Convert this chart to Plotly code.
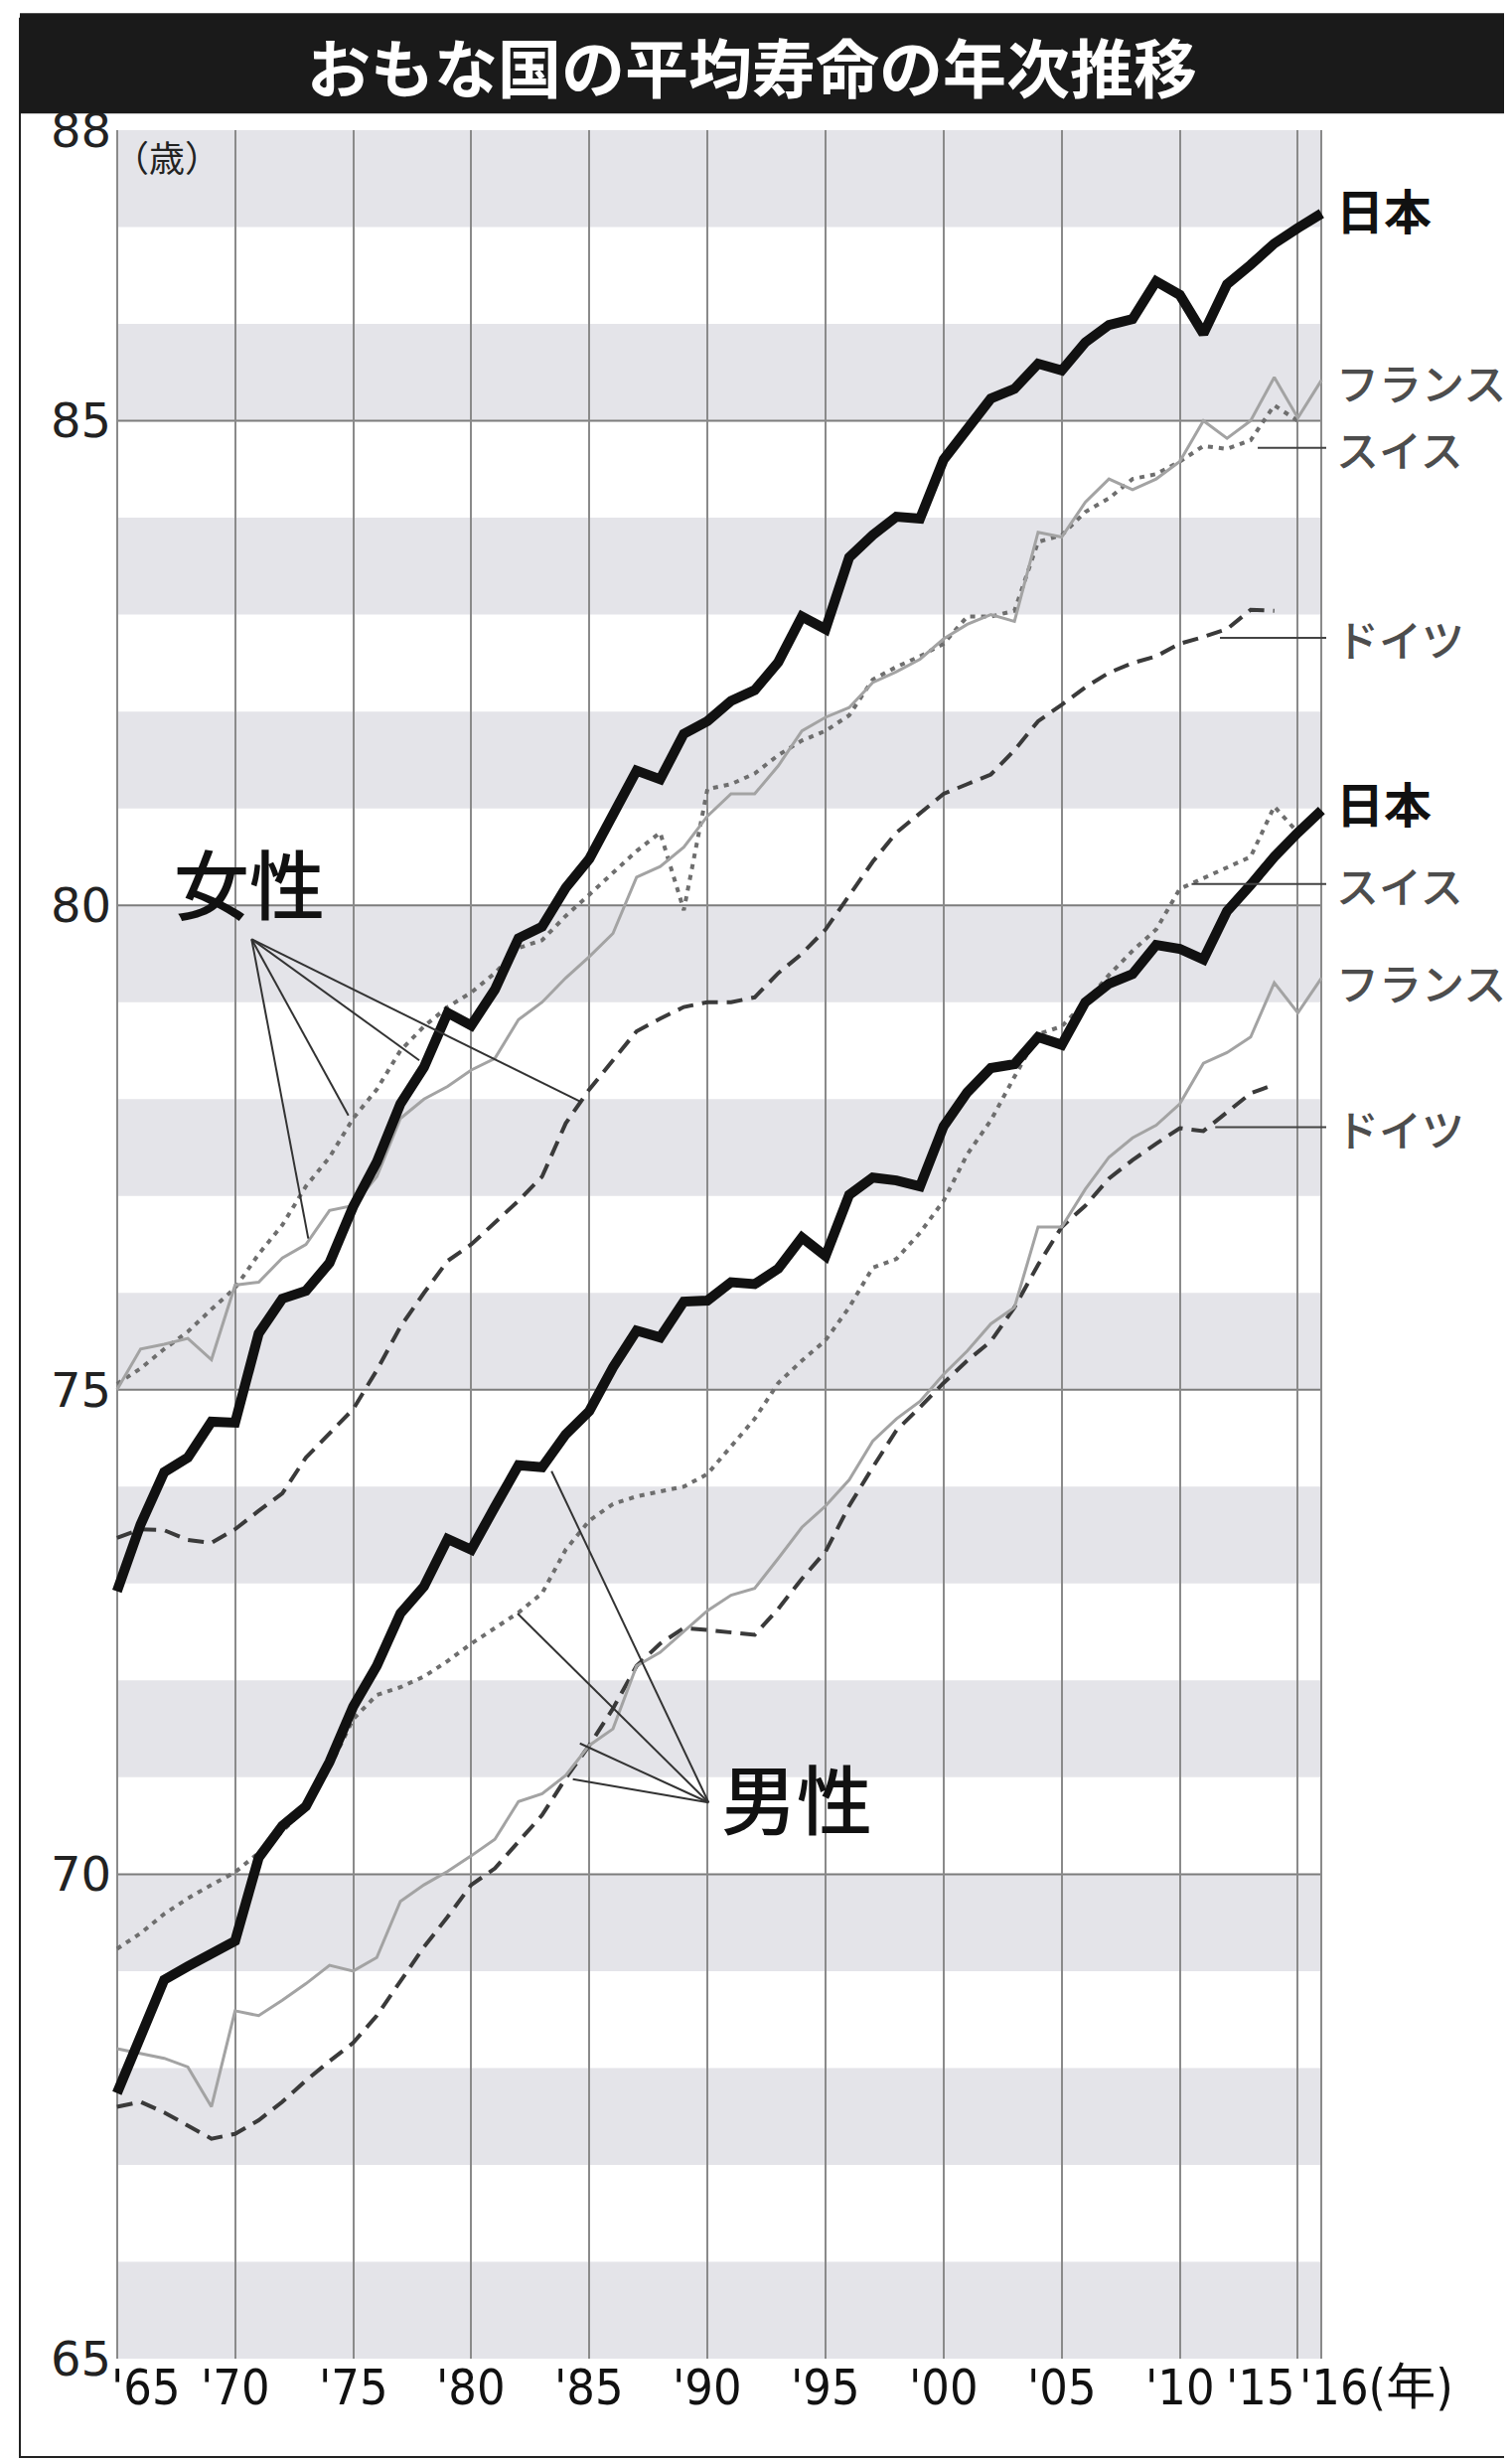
import plotly.graph_objects as go

# ---------------- data ----------------
years = list(range(1965, 2017))          # 1965 - 2016
years_ch = list(range(1965, 2016))       # Switzerland to 2015
years_de = list(range(1965, 2015))       # Germany to 2014

jp_f = [72.92, 73.61, 74.15, 74.30, 74.67, 74.66, 75.58, 75.94, 76.02, 76.31,
        76.89, 77.35, 77.95, 78.33, 78.89, 78.76, 79.13, 79.66, 79.78, 80.18,
        80.48, 80.93, 81.39, 81.30, 81.77, 81.90, 82.11, 82.22, 82.51, 82.98,
        82.85, 83.59, 83.82, 84.01, 83.99, 84.60, 84.93, 85.23, 85.33, 85.59,
        85.52, 85.81, 85.99, 86.05, 86.44, 86.30, 85.90, 86.41, 86.61, 86.83,
        86.99, 87.14]
fr_f = [75.0, 75.42, 75.47, 75.53, 75.31, 76.08, 76.11, 76.36, 76.5, 76.85,
        76.9, 77.2, 77.8, 78.0, 78.13, 78.3, 78.42, 78.82, 79.0, 79.25,
        79.47, 79.71, 80.29, 80.4, 80.6, 80.92, 81.15, 81.15, 81.44, 81.8,
        81.94, 82.04, 82.3, 82.41, 82.54, 82.75, 82.9, 83.0, 82.93, 83.85,
        83.8, 84.16, 84.4, 84.29, 84.4, 84.58, 85.0, 84.82, 85.0, 85.45,
        85.03, 85.42]
ch_f = [75.06, 75.22, 75.42, 75.6, 75.83, 76.05, 76.4, 76.7, 77.1, 77.4,
        77.8, 78.1, 78.5, 78.75, 78.95, 79.1, 79.3, 79.56, 79.64, 79.89,
        80.11, 80.33, 80.56, 80.75, 79.95, 81.2, 81.25, 81.36, 81.55, 81.7,
        81.8, 81.96, 82.33, 82.46, 82.57, 82.7, 82.98, 82.98, 83.04, 83.75,
        83.82, 84.06, 84.2, 84.4, 84.45, 84.58, 84.74, 84.71, 84.8, 85.16,
        85.0]
de_f = [73.47, 73.56, 73.55, 73.45, 73.42, 73.56, 73.75, 73.93, 74.3, 74.55,
        74.8, 75.2, 75.65, 76.0, 76.33, 76.5, 76.72, 76.95, 77.2, 77.75,
        78.1, 78.4, 78.7, 78.83, 78.95, 79.0, 79.0, 79.05, 79.3, 79.5,
        79.75, 80.1, 80.45, 80.75, 80.95, 81.15, 81.25, 81.35, 81.6, 81.9,
        82.07, 82.25, 82.4, 82.5, 82.57, 82.7, 82.77, 82.85, 83.05, 83.04]

jp_m = [67.74, 68.35, 68.91, 69.05, 69.18, 69.31, 70.17, 70.50, 70.70, 71.16,
        71.73, 72.15, 72.69, 72.97, 73.46, 73.35, 73.79, 74.22, 74.20, 74.54,
        74.78, 75.23, 75.61, 75.54, 75.91, 75.92, 76.11, 76.09, 76.25, 76.57,
        76.38, 77.01, 77.19, 77.16, 77.10, 77.72, 78.07, 78.32, 78.36, 78.64,
        78.56, 79.00, 79.19, 79.29, 79.59, 79.55, 79.44, 79.94, 80.21, 80.50,
        80.75, 80.98]
fr_m = [68.2, 68.15, 68.1, 68.01, 67.6, 68.59, 68.54, 68.7, 68.87, 69.06,
        69.0, 69.14, 69.72, 69.89, 70.03, 70.19, 70.36, 70.75, 70.83, 71.02,
        71.33, 71.5, 72.15, 72.29, 72.51, 72.72, 72.88, 72.95, 73.26, 73.58,
        73.8, 74.07, 74.47, 74.7, 74.88, 75.16, 75.4, 75.68, 75.85, 76.68,
        76.68, 77.07, 77.4, 77.6, 77.73, 77.95, 78.37, 78.48, 78.64, 79.2,
        78.89, 79.25]
ch_m = [69.23, 69.39, 69.59, 69.75, 69.89, 70.02, 70.22, 70.44, 70.69, 71.1,
        71.6, 71.85, 71.93, 72.04, 72.2, 72.38, 72.54, 72.7, 72.9, 73.35,
        73.65, 73.82, 73.9, 73.95, 74.0, 74.13, 74.41, 74.7, 75.07, 75.3,
        75.51, 75.85, 76.26, 76.35, 76.62, 76.95, 77.43, 77.78, 78.23, 78.67,
        78.75, 79.0, 79.28, 79.53, 79.75, 80.17, 80.28, 80.39, 80.5, 81.02,
        80.75]
de_m = [67.6, 67.65, 67.54, 67.4, 67.27, 67.32, 67.46, 67.65, 67.87, 68.07,
        68.26, 68.54, 68.9, 69.25, 69.56, 69.89, 70.06, 70.33, 70.61, 70.99,
        71.33, 71.71, 72.15, 72.38, 72.54, 72.52, 72.5, 72.47, 72.74, 73.05,
        73.33, 73.8, 74.2, 74.58, 74.82, 75.07, 75.3, 75.5, 75.85, 76.29,
        76.68, 76.9, 77.18, 77.37, 77.54, 77.7, 77.67, 77.87, 78.06, 78.15]

# axes / ticks
X_MIN, X_MAX = 1964.8, 2016.2
grid_years = [1965, 1970, 1975, 1980, 1985, 1990, 1995, 2000, 2005, 2010, 2015, 2016]
x_tick_years = [1965, 1970, 1975, 1980, 1985, 1990, 1995, 2000, 2005, 2010, 2015, 2015]
x_tick_labels = ["'65", "'70", "'75", "'80", "'85", "'90", "'95", "'00", "'05", "'10", "'15", "'16(年)"]
x_tick_anchor = ["left"] + ["center"] * 9 + ["right", "left"]
y_tick_vals = [65, 70, 75, 80, 85, 88]
y_tick_text = ["65", "70", "75", "80", "85", "88"]
y_grid_vals = [70, 75, 80, 85]
band_starts = [65, 67, 69, 71, 73, 75, 77, 79, 81, 83, 85, 87]

# right-side series labels: (text, y, bold, leader-start-year or None)
right_labels = [
    ("日本", 87.19, True, None),
    ("フランス", 85.41, False, None),
    ("スイス", 84.72, False, 2013.3),
    ("ドイツ", 82.76, False, 2011.7),
    ("日本", 81.07, True, None),
    ("スイス", 80.22, False, 2010.5),
    ("フランス", 79.21, False, None),
    ("ドイツ", 77.71, False, 2011.5),
]
label_year = 2016.55
# group labels with leader lines
female_label = ("女性", 1970.6, 80.25)
female_hub = (1970.7, 79.65)
female_targets = [(1973.1, 76.56), (1974.8, 77.83), (1977.8, 78.40), (1984.65, 77.97)]
male_label = ("男性", 1993.8, 70.8)
male_hub = (1990.05, 70.74)
male_targets = [(1983.4, 74.16), (1981.96, 72.69), (1984.6, 71.35), (1984.3, 70.98)]

JP_FONT = "Noto Sans CJK JP"
NARROW = "DejaVu Sans Condensed, Liberation Sans Narrow, Roboto, " + JP_FONT


def to_paper_x(v):
    return (v - X_MIN) / (X_MAX - X_MIN)


fig = go.Figure()

series = [
    (years_de, de_f, dict(color="#3a3a3a", width=4, dash="16px,9px")),
    (years_ch, ch_f, dict(color="#6e6e6e", width=4, dash="5px,6px")),
    (years, fr_f, dict(color="#a3a3a3", width=3)),
    (years_de, de_m, dict(color="#3a3a3a", width=4, dash="16px,9px")),
    (years_ch, ch_m, dict(color="#6e6e6e", width=4, dash="5px,6px")),
    (years, fr_m, dict(color="#a3a3a3", width=3)),
    (years, jp_f, dict(color="#111111", width=10)),
    (years, jp_m, dict(color="#111111", width=10)),
]
for xs, ys, ln in series:
    fig.add_trace(go.Scatter(x=xs, y=ys, mode="lines", line=ln, hoverinfo="skip"))

shapes = []
for lo in band_starts:
    shapes.append(dict(type="rect", xref="x", yref="y", x0=1965, x1=2016, y0=lo, y1=lo + 1,
                       fillcolor="#e4e4e9", line=dict(width=0), layer="below"))
for gv in y_grid_vals:
    shapes.append(dict(type="line", xref="x", yref="y", x0=1965, x1=2016, y0=gv, y1=gv,
                       line=dict(color="#7c7c7c", width=2), layer="below"))
for hub, targets in ((female_hub, female_targets), (male_hub, male_targets)):
    for tx, ty in targets:
        shapes.append(dict(type="line", xref="x", yref="y", x0=hub[0], y0=hub[1], x1=tx, y1=ty,
                           line=dict(color="#333333", width=2), layer="above"))
for text, yv, bold, lead in right_labels:
    if lead is not None:
        shapes.append(dict(type="line", xref="x", yref="y", x0=lead, x1=2016.5, y0=yv, y1=yv,
                           line=dict(color="#444444", width=2), layer="above"))
# frame and title bar
shapes.append(dict(type="rect", xref="paper", yref="paper", x0=-0.0761, x1=1.2, y0=-0.0441, y1=1.05,
                   line=dict(color="#222222", width=2), fillcolor="rgba(0,0,0,0)", layer="above"))
shapes.append(dict(type="rect", xref="paper", yref="paper", x0=-0.0761, x1=1.2, y0=1.0075, y1=1.0525,
                   line=dict(width=0), fillcolor="#1a1a1a", layer="above"))

annotations = []
annotations.append(dict(text="おもな国の平均寿命の年次推移", xref="paper", yref="paper", x=0.527, y=1.0295,
                        showarrow=False, xanchor="center", yanchor="middle",
                        font=dict(family=JP_FONT, size=64, color="white", weight="bold")))
annotations.append(dict(text="（歳）", xref="x", yref="y", x=1965, y=88, showarrow=False,
                        xanchor="left", yanchor="top", yshift=2, xshift=-6,
                        font=dict(family=JP_FONT, size=36, color="#222")))
for yr, lab, anc in zip(x_tick_years, x_tick_labels, x_tick_anchor):
    annotations.append(dict(text=lab, xref="x", yref="paper", x=yr, y=0, yshift=2,
                            xshift=-8 if anc == "left" and yr == 1965 else 0,
                            showarrow=False, xanchor=anc, yanchor="top",
                            font=dict(family=NARROW, size=50, color="#111")))
for text, yv, bold, lead in right_labels:
    annotations.append(dict(text=text, xref="paper", yref="y", x=to_paper_x(label_year), y=yv,
                            showarrow=False, xanchor="left", yanchor="middle",
                            font=dict(family=JP_FONT, size=48 if bold else 43,
                                      color="#111" if bold else "#4d4d4d",
                                      weight="bold" if bold else 500)))
for text, xv, yv in (female_label, male_label):
    annotations.append(dict(text=text, xref="x", yref="y", x=xv, y=yv, showarrow=False,
                            xanchor="center", yanchor="middle",
                            font=dict(family=JP_FONT, size=76, color="#111", weight=500)))

fig.update_layout(
    width=1522, height=2476,
    margin=dict(l=105, r=195, t=123, b=110),
    plot_bgcolor="white", paper_bgcolor="white",
    showlegend=False,
    shapes=shapes, annotations=annotations,
    xaxis=dict(range=[X_MIN, X_MAX], tickvals=grid_years, showticklabels=False,
               showgrid=True, gridcolor="#8a8a8a", gridwidth=2, zeroline=False,
               showline=False, ticks=""),
    yaxis=dict(range=[65, 88], tickvals=y_tick_vals, ticktext=y_tick_text, showgrid=False,
               zeroline=False, showline=False, ticks="",
               tickfont=dict(family="DejaVu Sans", size=48, color="#222")),
)

fig.write_html("out.html")
